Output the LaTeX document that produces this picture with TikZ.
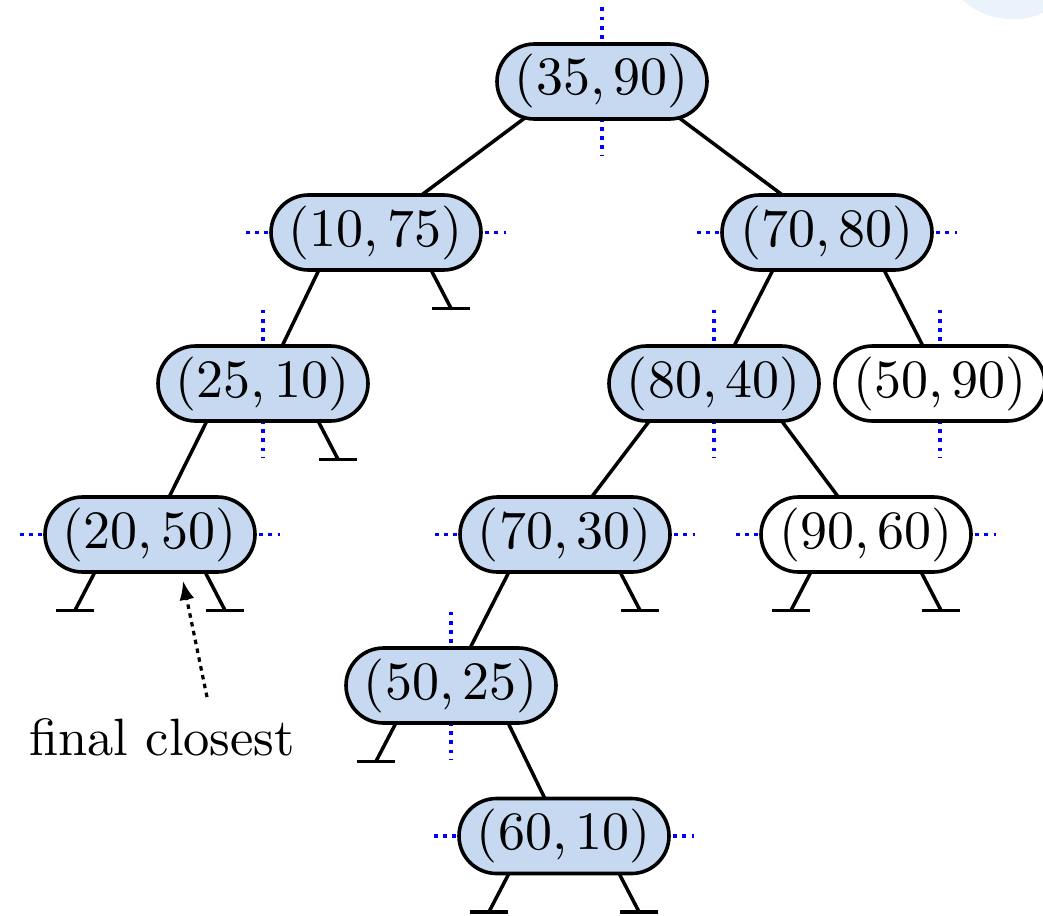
\documentclass[tikz,border=0pt]{standalone}
\usepackage{fontspec}
\usetikzlibrary{arrows.meta,backgrounds}
\newfontfamily\tenrm{lmroman10-regular}[Extension=.otf]
\definecolor{kdfill}{HTML}{C6D9F1}
\definecolor{kdpale}{HTML}{EAF2FB}
\begin{document}
\begin{tikzpicture}[x=1pt,y=-1pt,
  kd/.style={draw=black, line width=3.6pt, fill=kdfill, rounded corners=37.5pt,
    minimum width=210pt, minimum height=75pt, inner sep=0pt,
    font=\tenrm\fontsize{54}{60}\selectfont},
  kdw/.style={kd, fill=white},
  edge/.style={line width=3.5pt, shorten <=-6pt, shorten >=-6pt},
  nullstem/.style={line width=3.5pt, shorten <=-6pt},
  nullbar/.style={line width=3.5pt},
  split/.style={blue, line width=3.8pt, dash pattern=on 3.8pt off 5.4pt},
  pointer/.style={line width=3.2pt, dash pattern=on 4.5pt off 4.5pt,
    -{Latex[length=19pt,width=15pt]}},
  label/.style={font=\tenrm\fontsize{52.5}{60}\selectfont, inner sep=0pt}]
\useasboundingbox (0,0) rectangle (1043,915);

% pale disc in the upper right corner
\begin{scope}
  \clip (0,0) rectangle (1043,915);
  \fill[kdpale] (1013,-56) circle (75.3);
\end{scope}

% tree nodes
\node[kd]  (A) at (602,81.5)  {(35,\,90)};
\node[kd]  (B) at (376,232.5) {(10,\,75)};
\node[kd]  (C) at (827,232.5) {(70,\,80)};
\node[kd]  (D) at (263,383.5) {(25,\,10)};
\node[kd]  (E) at (714,383.5) {(80,\,40)};
\node[kdw] (F) at (940,383.5) {(50,\,90)};
\node[kd]  (G) at (150,534.5) {(20,\,50)};
\node[kd]  (H) at (565,534.5) {(70,\,30)};
\node[kdw] (I) at (866,534.5) {(90,\,60)};
\node[kd]  (J) at (451,685.5) {(50,\,25)};
\node[kd]  (K) at (564,836)   {(60,\,10)};

\node[label] (fc) at (162,737) {final closest};
\coordinate (tail) at (207,697);

\begin{pgfonlayer}{background}
  % splitting lines: vertical for x-splits, horizontal for y-splits
  \foreach \n in {A,D,E,F,J}
    \draw[split] ([shift={(0,-74)}]\n.center) -- ([shift={(0,74)}]\n.center);
  \foreach \n in {B,C,G,H,I,K}
    \draw[split] ([shift={(-130,0)}]\n.center) -- ([shift={(130,0)}]\n.center);

  % parent-child edges
  \draw[edge] ([shift={(-81,0)}]A.south) -- ([shift={(48,0)}]B.north);
  \draw[edge] ([shift={(81,0)}]A.south)  -- ([shift={(-47,0)}]C.north);
  \draw[edge] ([shift={(-58,0)}]B.south) -- ([shift={(20,0)}]D.north);
  \draw[edge] ([shift={(-55,0)}]C.south) -- ([shift={(21,0)}]E.north);
  \draw[edge] ([shift={(58,0)}]C.south)  -- ([shift={(-18,0)}]F.north);
  \draw[edge] ([shift={(-57,0)}]D.south) -- ([shift={(20,0)}]G.north);
  \draw[edge] ([shift={(-66,0)}]E.south) -- ([shift={(28,0)}]H.north);
  \draw[edge] ([shift={(69,0)}]E.south)  -- ([shift={(-29,0)}]I.north);
  \draw[edge] ([shift={(-57,0)}]H.south) -- ([shift={(20,0)}]J.north);
  \draw[edge] ([shift={(58,0)}]J.south)  -- ([shift={(-20,0)}]K.north);

  % empty subtrees
  \foreach \n/\s in {B/1,D/1,G/-1,G/1,H/1,I/-1,I/1,J/-1,K/-1,K/1} {
    \draw[nullstem] ([shift={(\s*56,0)}]\n.south) -- ++(\s*19,36.5) coordinate (nul);
    \draw[nullbar] ([shift={(-19,0)}]nul) -- ([shift={(19,0)}]nul);
  }
\end{pgfonlayer}

% pointer to the closest point
\draw[pointer] (tail) -- ([shift={(33,7)}]G.south);
\end{tikzpicture}
\end{document}
